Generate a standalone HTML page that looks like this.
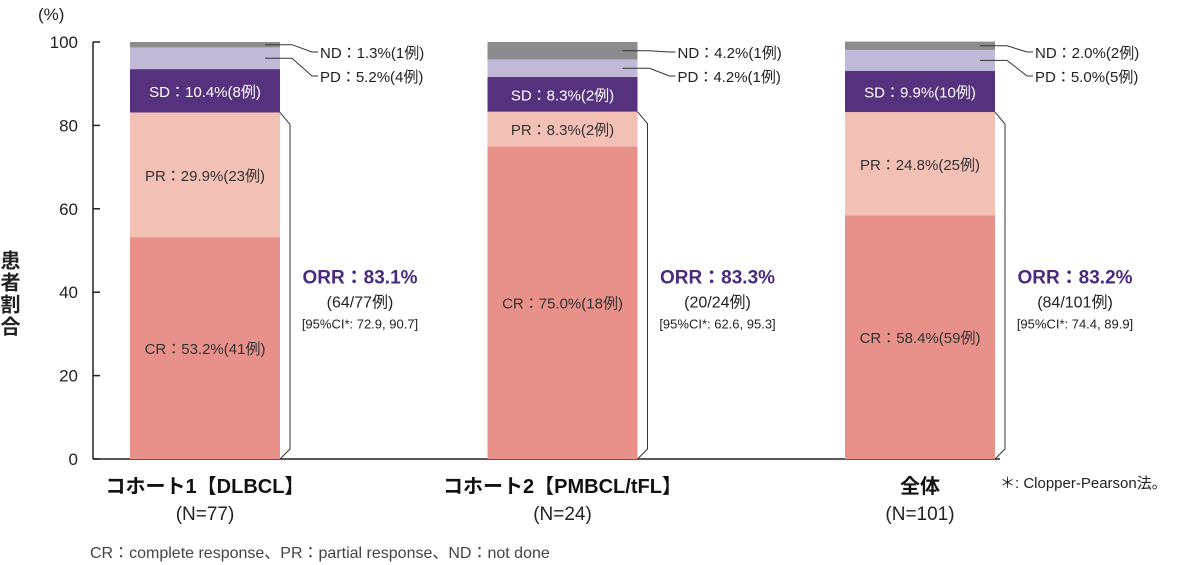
<!DOCTYPE html>
<html><head><meta charset="utf-8"><style>
body{margin:0;background:#fff;}
svg{display:block;font-family:"Liberation Sans","Noto Sans CJK JP",sans-serif;}
</style></head><body>
<svg id="chart" width="1200" height="565" viewBox="0 0 1200 565">
<text x="38" y="20" font-size="17" fill="#222">(%)</text>
<text x="8" y="250" font-size="20" font-weight="bold" fill="#222" style="writing-mode:vertical-rl;letter-spacing:2px" transform="translate(0,0)">患者割合</text>
<g id="axis"></g>
<g id="bars"></g>
<text x="1000" y="488" font-size="15" fill="#222">＊: Clopper-Pearson法。</text>
<text x="90" y="558" font-size="16" fill="#444">CR：complete response、PR：partial response、ND：not done</text>
</svg>
<script>
const categories=["コホート1【DLBCL】","コホート2【PMBCL/tFL】","全体"];
const nLabels=["(N=77)","(N=24)","(N=101)"];
const crVals=[53.2,75.0,58.4];
const prVals=[29.9,8.3,24.8];
const sdVals=[10.4,8.3,9.9];
const pdVals=[5.2,4.2,5.0];
const ndVals=[1.3,4.2,2.0];
const crN=[41,18,59],prN=[23,2,25],sdN=[8,2,10],pdN=[4,1,5],ndN=[1,1,2];
const orrVals=[83.1,83.3,83.2];
const orrFrac=["(64/77例)","(20/24例)","(84/101例)"];
const ciLabels=["[95%CI*: 72.9, 90.7]","[95%CI*: 62.6, 95.3]","[95%CI*: 74.4, 89.9]"];
const yTicks=[0,20,40,60,80,100];

const NS="http://www.w3.org/2000/svg";
const y0=459,y100=42;
const yS=v=>y0-(y0-y100)*v/100;
const barW=150;
const xS=i=>130+i*357.5;
function mk(tag,attrs,parent,txt){const e=document.createElementNS(NS,tag);for(const k in attrs)e.setAttribute(k,attrs[k]);if(txt!==undefined)e.textContent=txt;parent.appendChild(e);return e;}
const ax=document.getElementById('axis');
let l=mk('line',{x1:93,y1:y100,x2:93,y2:y0,stroke:'#222','stroke-width':1.5},ax);


yTicks.forEach(t=>{
 const tk=mk('line',{x1:93,y1:yS(t),x2:100,y2:yS(t),stroke:'#222','stroke-width':1.5},ax);
 
 
 const tx=mk('text',{x:78,y:yS(t)+6,'text-anchor':'end','font-size':17,fill:'#222'},ax,String(t));
 
 
});
const bl=mk('line',{x1:93,y1:y0,x2:1000,y2:y0,stroke:'#222','stroke-width':1.5},ax);



const g=document.getElementById('bars');
const segs=[["cr",crVals,crN,"#e8918a","CR"],["pr",prVals,prN,"#f3c0b5","PR"],["sd",sdVals,sdN,"#55317e","SD"],["pd",pdVals,pdN,"#c2b8d7","PD"],["nd",ndVals,ndN,"#8c8c8c","ND"]];
categories.forEach((c,i)=>{
 const x=xS(i);let cum=0;const tops={};
 segs.forEach(([k,vals,ns,col,lab])=>{
  const v=vals[i];const yt=yS(cum+v),yb=yS(cum);
  const r=mk('rect',{x:x,y:yt,width:barW,height:yb-yt,fill:col},g);
  
  
  tops[k]=[yt,yb];
  const txt=lab+"："+v.toFixed(1)+"%("+ns[i]+"例)";
  if(k==='cr'||k==='pr'||k==='sd'){
   const t=mk('text',{x:x+barW/2,y:(yt+yb)/2+6,'text-anchor':'middle','font-size':15,fill:k==='sd'?'#fff':'#333'},g,txt);
   
   
  } else {
   const ym=(yt+yb)/2, ly=k==='nd'?58:82;
   const p=mk('polyline',{points:`${x+barW-15},${ym} ${x+barW+12},${ym} ${x+barW+32},${ly-6} ${x+barW+38},${ly-6}`,fill:'none',stroke:'#333','stroke-width':1},g);
   
   
   const t=mk('text',{x:x+barW+40,y:ly,'font-size':15,fill:'#222'},g,txt);
   
   
  }
  cum+=v;
 });
 const bt=tops.sd[1];
 const br=mk('polyline',{points:`${x+barW},${bt} ${x+barW+10},${bt+12} ${x+barW+10},${y0-10} ${x+barW},${y0}`,fill:'none',stroke:'#333','stroke-width':1},g);
 
 
 const cx=x+barW+80,cy=(bt+y0)/2;
 const o=mk('text',{x:cx,y:cy-2,'text-anchor':'middle','font-size':19,'font-weight':'bold',fill:'#4a2a80'},g,"ORR："+orrVals[i].toFixed(1)+"%");
 
 
 const f=mk('text',{x:cx,y:cy+22,'text-anchor':'middle','font-size':16,fill:'#222'},g,orrFrac[i]);
 
 
 const ci=mk('text',{x:cx,y:cy+43,'text-anchor':'middle','font-size':13,fill:'#222'},g,ciLabels[i]);
 
 
 const cl=mk('text',{x:x+barW/2,y:493,'text-anchor':'middle','font-size':20,'font-weight':'bold',fill:'#111'},g,c);
 
 
 const nl=mk('text',{x:x+barW/2,y:520,'text-anchor':'middle','font-size':19,fill:'#222'},g,nLabels[i]);
 
 
});
</script>
</body></html>
